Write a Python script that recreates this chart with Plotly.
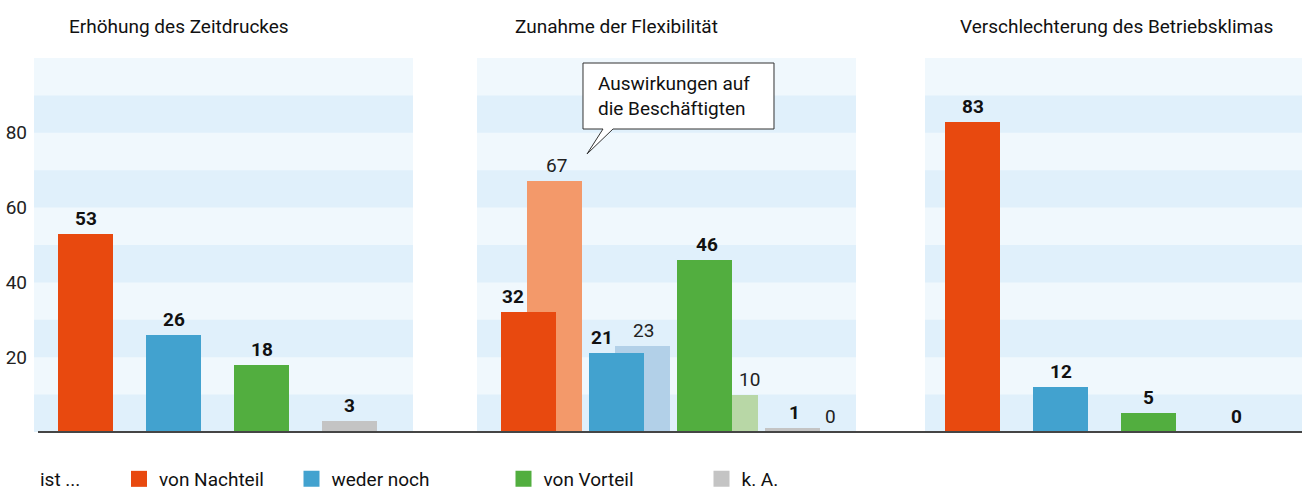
import plotly.graph_objects as go

# ---------------- data ----------------
categories = ["von Nachteil", "weder noch", "von Vorteil", "k. A."]
panel_titles = ["Erhöhung des Zeitdruckes", "Zunahme der Flexibilität", "Verschlechterung des Betriebsklimas"]
zeitdruck = [53, 26, 18, 3]
flexibilitaet_betrieb = [32, 21, 46, 1]
flexibilitaet_beschaeftigte = [67, 23, 10, 0]
betriebsklima = [83, 12, 5, 0]
y_ticks = [20, 40, 60, 80]
legend_prefix = "ist ..."
callout_text = "Auswirkungen auf<br>die Beschäftigten"

# ---------------- style ----------------
W, H = 1302, 492
FONT = "Roboto, Liberation Sans, sans-serif"
FS = 19
dark_colors = ["#E8490F", "#42A2CF", "#52AE3F", "#C4C4C4"]
light_colors = ["#F3996A", "#B2D0E8", "#B8D7A6", "#C8C8C8"]
band_light = "#F0F8FD"
band_dark = "#E0F0FB"
BW = 0.625
LEGEND_Y = 479


def px(x):
    return x / W


def py(y):
    return 1 - y / H


fig = go.Figure()

x_domains = [[px(34), px(413)], [px(477), px(856)], [px(925), 1.0]]
x_ranges = [[-0.585, 3.72], [-0.585, 3.72], [-0.54, 3.74]]
y_domain = [py(432), py(58)]
no_line = dict(width=0)

# ---- panel 1 ----
for i, c in enumerate(categories):
    fig.add_trace(go.Bar(
        x=[c], y=[zeitdruck[i]], name=c, marker=dict(color=dark_colors[i], line=no_line),
        width=BW, xaxis="x", yaxis="y", showlegend=False))

# ---- panel 2: light (Beschäftigte) behind dark (Betrieb) ----
for i, c in enumerate(categories):
    fig.add_trace(go.Bar(
        x=[c], y=[flexibilitaet_beschaeftigte[i]], marker=dict(color=light_colors[i], line=no_line),
        width=BW, offset=-0.015, xaxis="x2", yaxis="y2", showlegend=False,
        name=c + " (Beschäftigte)"))
for i, c in enumerate(categories):
    fig.add_trace(go.Bar(
        x=[c], y=[flexibilitaet_betrieb[i]], marker=dict(color=dark_colors[i], line=no_line),
        width=BW, offset=-BW / 2, xaxis="x2", yaxis="y2", showlegend=False, name=c))

# ---- panel 3 ----
for i, c in enumerate(categories):
    fig.add_trace(go.Bar(
        x=[c], y=[betriebsklima[i]], marker=dict(color=dark_colors[i], line=no_line),
        width=BW, xaxis="x3", yaxis="y3", showlegend=False, name=c))

# ---- legend entries (one legend per category so each can be placed) ----
legend_names = ["legend", "legend2", "legend3", "legend4"]
for i, c in enumerate(categories):
    fig.add_trace(go.Scatter(
        x=[None], y=[None], mode="markers", name=c, legend=legend_names[i],
        marker=dict(symbol="square", size=16, color=dark_colors[i], line=no_line),
        xaxis="x", yaxis="y", showlegend=True, hoverinfo="skip"))

# ---- value labels ----
annotations = []
bold_font = dict(family=FONT, size=FS, color="#111111", weight=700)
norm_font = dict(family=FONT, size=FS, color="#222222")


def label(xref, yref, cat, val, font, xshift=0):
    annotations.append(dict(
        x=cat, y=val, xref=xref, yref=yref, text=str(val), showarrow=False,
        yanchor="bottom", xanchor="center", xshift=xshift, yshift=2, font=font))


for i, c in enumerate(categories):
    label("x", "y", c, zeitdruck[i], bold_font)
    label("x3", "y3", c, betriebsklima[i], bold_font)

dark_shift = [-15.5, -14.5, 2.5, 1.5]
light_shift = [27.5, 26.5, 44.5, 37.5]
for i, c in enumerate(categories):
    label("x2", "y2", c, flexibilitaet_betrieb[i], bold_font, dark_shift[i])
    label("x2", "y2", c, flexibilitaet_beschaeftigte[i], norm_font, light_shift[i])

# ---- panel titles ----
title_centers = [179, 616.5, 1116]
for t, xc in zip(panel_titles, title_centers):
    annotations.append(dict(
        x=px(xc), y=py(26), xref="paper", yref="paper", text=t, showarrow=False,
        xanchor="center", yanchor="middle", font=dict(family=FONT, size=FS, color="#111111")))

# ---- callout ----
annotations.append(dict(
    x=px(596), y=py(96), xref="paper", yref="paper", text=callout_text, showarrow=False,
    xanchor="left", yanchor="middle", align="left",
    font=dict(family=FONT, size=FS, color="#111111")))

# ---- legend prefix ----
annotations.append(dict(
    x=px(38), y=py(LEGEND_Y), xref="paper", yref="paper", text=legend_prefix, showarrow=False,
    xanchor="left", yanchor="middle", font=dict(family=FONT, size=FS, color="#111111")))

# ---- shapes: bands, baseline, callout box ----
shapes = []
for xa, ya in [("x", "y"), ("x2", "y2"), ("x3", "y3")]:
    for lo in range(0, 100, 20):
        shapes.append(dict(
            type="rect", xref=f"{xa} domain", yref=ya, x0=0, x1=1, y0=lo, y1=lo + 10,
            fillcolor=band_dark, line_width=0, layer="below"))

shapes.append(dict(type="line", xref="paper", yref="paper",
                   x0=px(38), x1=1.0, y0=py(432), y1=py(432),
                   line=dict(color="#454545", width=2), layer="above"))

pts = [(583, 63), (774, 63), (774, 129), (613, 129), (587, 154), (603, 129), (583, 129)]
path = "M" + " L".join(f"{px(a):.5f},{py(b):.5f}" for a, b in pts) + " Z"
shapes.append(dict(type="path", xref="paper", yref="paper", path=path,
                   fillcolor="white", line=dict(color="#333333", width=1), layer="above"))

# ---- axes ----
layout_axes = {}
for k in range(3):
    sfx = "" if k == 0 else str(k + 1)
    layout_axes["xaxis" + sfx] = dict(
        domain=x_domains[k], type="category", categoryorder="array", categoryarray=categories,
        range=x_ranges[k], showticklabels=False, showgrid=False, zeroline=False,
        showline=False, ticks="", anchor="y" + sfx, fixedrange=True)
    layout_axes["yaxis" + sfx] = dict(
        domain=y_domain, range=[0, 100], showgrid=False, zeroline=False, showline=False,
        tickvals=y_ticks, ticks="", showticklabels=(k == 0), ticklabelstandoff=6,
        tickfont=dict(family=FONT, size=FS, color="#222222"), anchor="x" + sfx, fixedrange=True)

legend_x = [119, 291.5, 503.5, 701.5]
legends = {}
for i, nm in enumerate(legend_names):
    legends[nm] = dict(x=px(legend_x[i]), y=py(LEGEND_Y), xanchor="left", yanchor="middle",
                       orientation="h", bgcolor="rgba(0,0,0,0)", borderwidth=0,
                       font=dict(family=FONT, size=FS, color="#111111"),
                       itemclick=False, itemdoubleclick=False)

fig.update_layout(
    width=W, height=H, margin=dict(l=0, r=0, t=0, b=0, autoexpand=False),
    paper_bgcolor="white", plot_bgcolor=band_light,
    barmode="overlay", bargap=0,
    annotations=annotations, shapes=shapes,
    font=dict(family=FONT, size=FS, color="#111111"),
    **layout_axes, **legends)

fig.write_html(
    "out.html",
    config={"displayModeBar": False, "responsive": False},
    post_script="document.body.style.margin='0px';document.body.style.overflow='hidden';",
)
